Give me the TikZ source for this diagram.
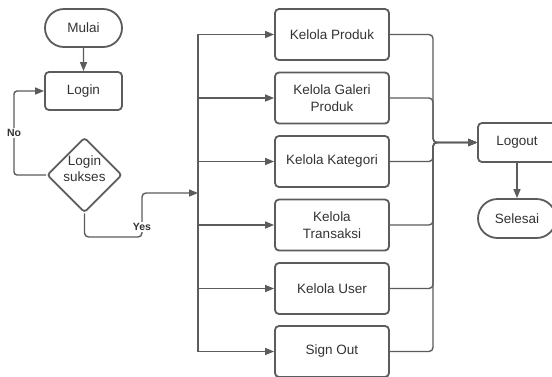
\documentclass[tikz,border=0pt]{standalone}
\usepackage{fontspec}
\setmainfont{Liberation Sans}
\usetikzlibrary{shapes.geometric,shapes.misc,arrows.meta}
\definecolor{edge}{HTML}{5C5C5C}
\definecolor{ink}{HTML}{333333}
\begin{document}
\begin{tikzpicture}[x=1pt,y=-1pt,
  base/.style={draw=edge, line width=1.8pt, text=ink, font=\fontsize{13.5}{16.5}\selectfont,
    align=center, inner sep=0pt, fill=white},
  term/.style={base, rounded rectangle, minimum width=#1, minimum height=38pt},
  proc/.style={base, rectangle, rounded corners=4pt, minimum width=#1},
  decision/.style={base, diamond, aspect=1, minimum width=75pt, minimum height=75pt, rounded corners=3pt},
  menubox/.style={base, rectangle, rounded corners=4pt, minimum width=114pt, minimum height=51pt},
  caption/.style={text=ink, font=\fontsize{13.5}{16.5}\selectfont, align=center, inner sep=0pt},
  conn/.style={draw=edge, line width=1.4pt},
  arr/.style={conn, -{Triangle[length=9pt,width=7pt]}},
  tag/.style={fill=white, text=ink, font=\fontsize{10.5}{12}\selectfont\bfseries, inner sep=1.5pt}
]
\clip (0,0) rectangle (552,376);
\fill[white] (0,0) rectangle (552,376);

% start, login and decision
\node[term=77pt] (mulai) at (83.5,28) {Mulai};
\node[proc=77pt, minimum height=38pt] (login) at (83.5,91) {Login};
\node[decision] (cek) at (84.5,175) {};
\node[caption] (cektext) at (84.5,168.5) {Login\\sukses};

% menu entries
\node[menubox] (m1) at (332,34.5) {Kelola Produk};
\node[menubox] (m2) at (332,98) {Kelola Galeri\\Produk};
\node[menubox] (m3) at (332,161.5) {Kelola Kategori};
\node[menubox] (m4) at (332,225) {Kelola\\Transaksi};
\node[menubox] (m5) at (332,288.5) {Kelola User};
\node[menubox] (m6) at (332,351.5) {Sign Out};

% end of session
\node[proc=78pt, minimum height=39pt] (logout) at (517,142.5) {Logout};
\node[term=78pt, minimum height=39pt] (selesai) at (517,218.5) {Selesai};

\coordinate (lbus) at (198,193);
\coordinate (rbus) at (433,142.5);
\coordinate (noleft) at (14,175);
\coordinate (yesbot) at (142,237);

\draw[arr] (mulai) -- (login);

% retry branch
\draw[arr, rounded corners=3pt] (cek.west) -- (noleft) |- (login.west);
\node[tag] (no) at (14,133) {No};

% success branch
\draw[arr, rounded corners=4pt] (cek.south) |- (yesbot) |- (lbus);
\node[tag] (yes) at (142,227) {Yes};

% fan out to menu entries
\foreach \m in {m1,m2,m3,m4,m5,m6}
  \draw[arr] (lbus) |- (\m.west);

% gather back to logout
\foreach \m in {m1,m2,m3,m4,m5,m6}
  \draw[arr, rounded corners=4pt] (\m.east) -| (rbus) -- (logout.west);

\draw[arr] (logout) -- (selesai);
\end{tikzpicture}
\end{document}
